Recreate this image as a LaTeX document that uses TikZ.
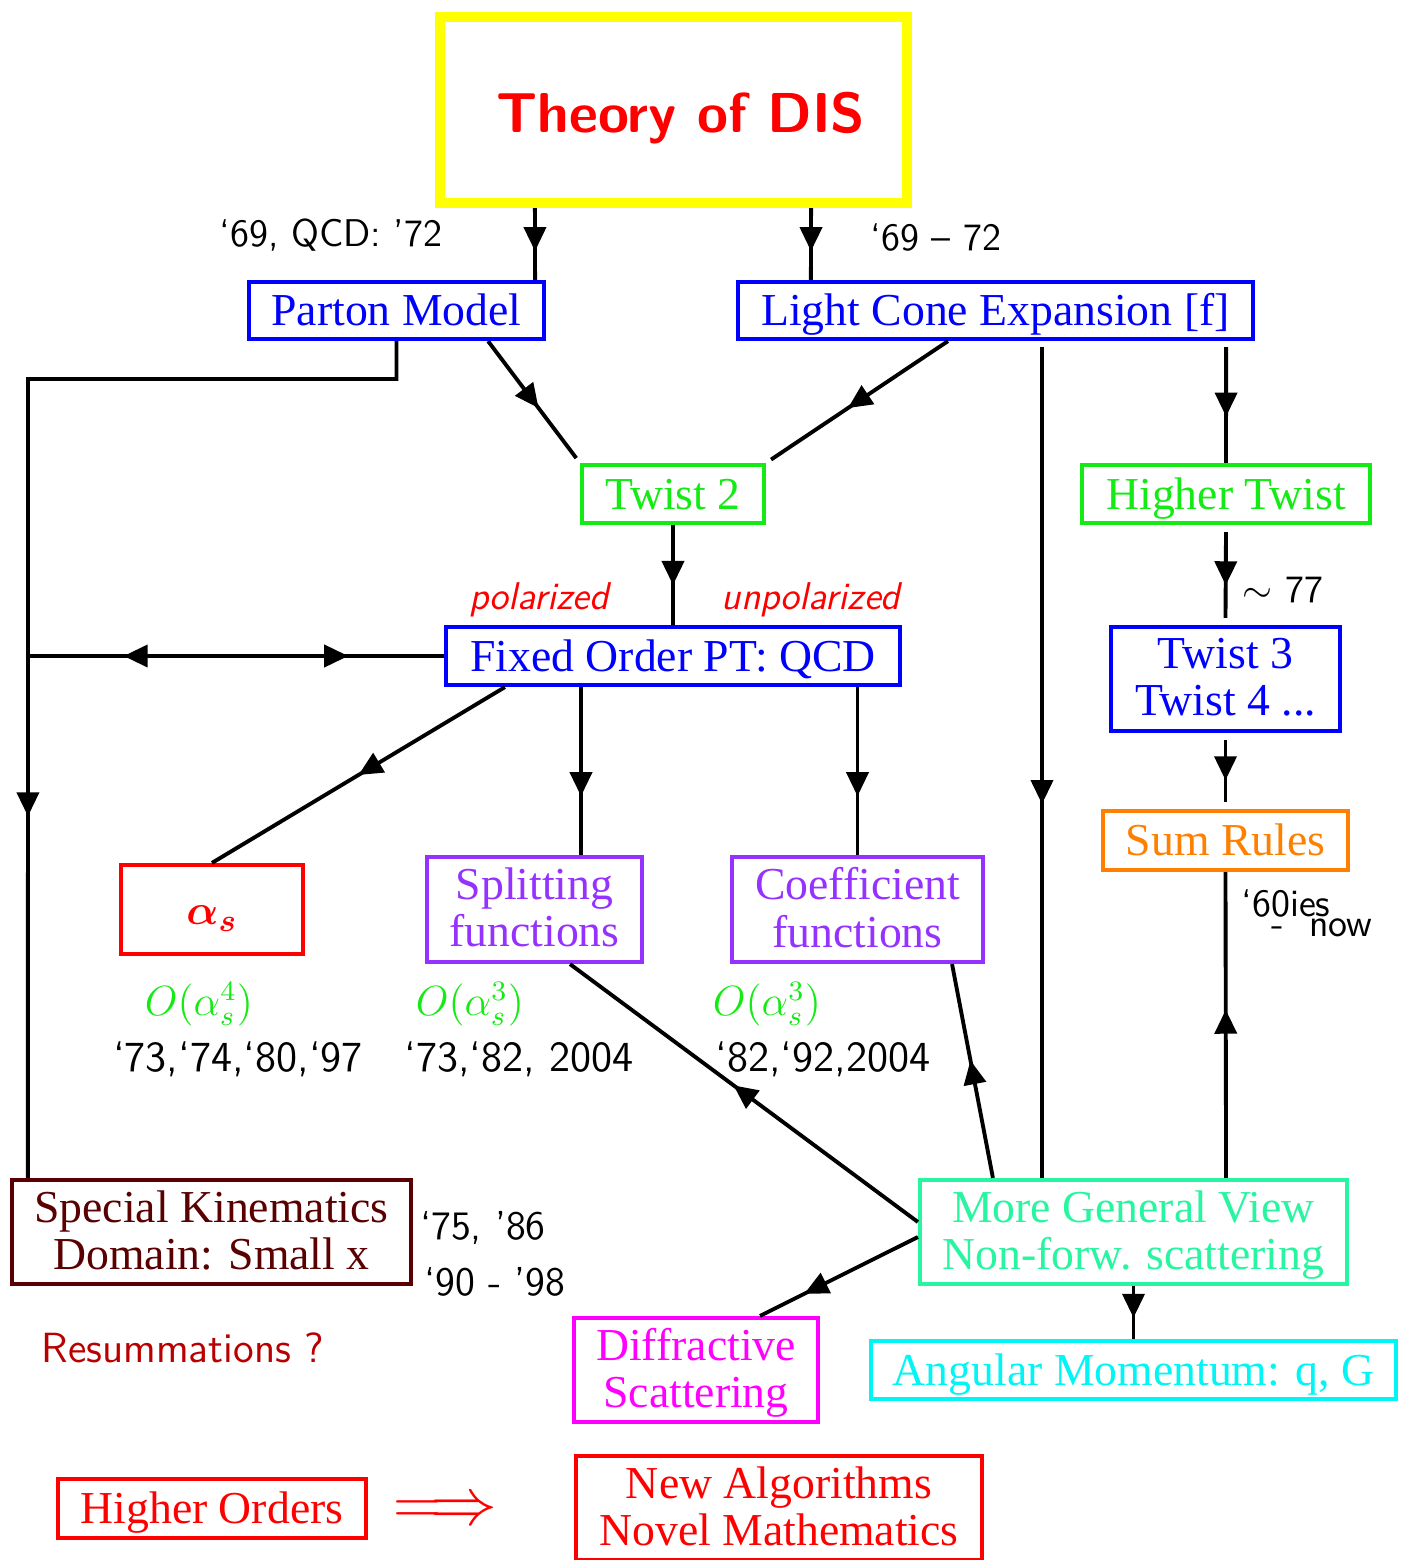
\documentclass[tikz,border=0pt]{standalone}
\usepackage[no-math]{fontspec}
\setmainfont{Liberation Serif}
\usetikzlibrary{arrows.meta,decorations.markings}

\definecolor{disyellow}{RGB}{255,255,0}
\definecolor{twistgreen}{RGB}{20,235,20}
\definecolor{splitviolet}{RGB}{150,50,255}
\definecolor{sumorange}{RGB}{255,128,0}
\definecolor{viewteal}{RGB}{40,245,160}
\definecolor{angcyan}{RGB}{0,245,245}
\definecolor{diffmagenta}{RGB}{255,0,255}
\definecolor{kinbrown}{RGB}{90,0,0}
\definecolor{resumred}{RGB}{185,0,0}

\tikzset{
  flow/.tip={Triangle[length=2.4mm,width=2.2mm]},
  box/.style={draw=#1, text=#1, line width=1.2pt, inner sep=0pt, align=center,
    font=\fontsize{13}{13.5}\selectfont},
  line1/.style={text height=10pt, text depth=1.2pt},
  line2/.style={text depth=1.2pt},
  sz/.style 2 args={minimum width=#1*0.01cm, minimum height=#2*0.01cm},
  conn/.style={line width=1.1pt},
  fwd/.style={conn, postaction={decorate},
    decoration={markings, mark=at position #1 with {\arrow{flow}}}},
  lab/.style={font=\sffamily\fontsize{11.5}{12}\selectfont, inner sep=0pt},
  yr/.style={font=\sffamily\fontsize{12.2}{13}\selectfont, inner sep=0pt},
  ord/.style={text=twistgreen, font=\fontsize{12}{14}\selectfont, inner sep=0pt},
}

\begin{document}
\begin{tikzpicture}[x=0.01cm,y=-0.01cm]
  \useasboundingbox (0,0) rectangle (1405,1560);

  % boxes
  \node[box=disyellow, line width=2.85pt, sz={467}{186}, text=red, text height=13.5pt, text depth=0.5pt,
    font=\sffamily\bfseries\fontsize{16}{18}\selectfont] (dis) at (673.5,110) {\hspace{0.15cm}Theory of DIS};
  \node[box=blue, line1, sz={295}{57}] (pm) at (396.5,310.5) {Parton Model};
  \node[box=blue, line1, sz={515}{57}] (lce) at (995.5,310.5) {Light Cone Expansion [f]};
  \node[box=twistgreen, line1, sz={182}{58}] (t2) at (673,494) {Twist 2};
  \node[box=twistgreen, line1, sz={288}{58}] (ht) at (1226,494) {Higher Twist};
  \node[box=blue, line1, sz={454}{58}] (fo) at (673,656) {Fixed Order PT: QCD};
  \node[box=blue, line2, sz={229}{104}] (t34) at (1225.5,679) {Twist 3\\Twist 4 ...};
  \node[box=sumorange, line1, sz={245}{59}] (sr) at (1225.5,840.5) {Sum Rules};
  \node[box=red, line1, sz={182}{89}] (alps) at (212,909.5) {{\boldmath$\alpha_s$}};
  \node[box=splitviolet, line2, sz={215}{105}] (sf) at (534.5,909.5) {Splitting\\functions};
  \node[box=splitviolet, line2, sz={251}{105}] (cf) at (857.5,909.5) {Coefficient\\functions};
  \node[box=viewteal, line2, sz={427}{104}] (mg) at (1133.5,1232) {More General View\\Non-forw. scattering};
  \node[box=kinbrown, line2, sz={399}{104}] (sk) at (211.5,1232) {Special Kinematics\\Domain: Small x};
  \node[box=diffmagenta, line2, sz={244}{104}] (df) at (696,1370) {Diffractive\\Scattering};
  \node[box=angcyan, line1, sz={525}{58}] (am) at (1133.5,1370) {Angular Momentum: q, G};
  \node[box=red, line1, sz={308}{59}] (ho) at (212,1508.5) {Higher Orders};
  \node[box=red, line2, sz={406}{104}] (na) at (779,1508) {New Algorithms\\Novel Mathematics};
  \node[text=red, inner sep=0pt, font=\fontsize{18}{20}\selectfont] (imp) at (445,1512) {\scalebox{1.1}{$\Longrightarrow$}};

  % labels
  \node[lab, font=\sffamily\fontsize{11}{12}\selectfont] (l1) at (331,235) {‘69, QCD: ’72};
  \node[lab, font=\sffamily\fontsize{11}{12}\selectfont] (l2) at (936,237) {‘69 -- 72};
  \node[lab, text=red, font=\sffamily\itshape\fontsize{11}{12}\selectfont] (pol) at (539,600) {polarized};
  \node[lab, text=red, font=\sffamily\itshape\fontsize{11}{12}\selectfont] (unpol) at (811,600) {unpolarized};
  \node[lab, font=\sffamily\fontsize{11}{12}\selectfont] (l3) at (1283,590) {$\sim$ 77};
  \node[lab, font=\sffamily\fontsize{11}{12}\selectfont] (l4) at (1286,903) {‘60ies};
  \node[lab, font=\sffamily\fontsize{11}{12}\selectfont] (l5) at (1322,928) {-\ \ now};
  \node[ord] (o1) at (199,1004) {$O(\alpha_s^4)$};
  \node[ord] (o2) at (470,1004) {$O(\alpha_s^3)$};
  \node[ord] (o3) at (767,1004) {$O(\alpha_s^3)$};
  \node[yr] (y1) at (238,1059) {‘73,‘74,‘80,‘97};
  \node[yr] (y2) at (519,1059) {‘73,‘82,\ 2004};
  \node[yr] (y3) at (823,1059) {‘82,‘92,2004};
  \node[lab] (y4) at (483,1228) {‘75, ’86};
  \node[lab] (y5) at (495,1282) {‘90 - ’98};
  \node[inner sep=0pt, text=resumred, font=\sffamily\fontsize{12}{14}\selectfont] (rs) at (183,1348) {Resummations ?};

  % connectors
  \coordinate (kink) at (28,379);
  \draw[fwd=0.6] ([xshift=-1.385cm]dis.south) -- ([xshift=1.385cm]pm.north);
  \draw[fwd=0.6] ([xshift=1.375cm]dis.south) -- ([xshift=-1.845cm]lce.north);
  \draw[fwd=0.55, shorten >=0.6mm] ([xshift=0.915cm]pm.south) -- (t2.north west);
  \draw[fwd=0.55, shorten >=0.6mm] ([xshift=-0.475cm]lce.south) -- (t2.north east);
  \draw[fwd=0.55] ([xshift=0.465cm,yshift=-0.06cm]lce.south) -- ([xshift=-0.915cm]mg.north);
  \draw[fwd=0.6] ([xshift=2.305cm,yshift=-0.06cm]lce.south) -- (ht.north);
  \draw[fwd=0.7] (pm.south) |- (kink) -- ([xshift=-1.835cm]sk.north);
  \draw[fwd=0.6] (t2.south) -- (fo.north);
  \draw[conn, postaction={decorate}, decoration={markings,
      mark=at position 0.23 with {\arrowreversed{flow}},
      mark=at position 0.77 with {\arrow{flow}}}] (fo.west) -- (fo.west -| kink);
  \draw[fwd=0.5] ([xshift=-1.68cm]fo.south) -- (alps.north);
  \draw[fwd=0.65] ([xshift=-0.92cm]fo.south) -- ([xshift=0.465cm]sf.north);
  \draw[fwd=0.65] (fo.south -| cf.north) -- (cf.north);
  \draw[fwd=0.62] ([yshift=-0.07cm]ht.south) -- ([yshift=0.07cm]t34.north);
  \draw[fwd=0.65] ([yshift=-0.07cm]t34.south) -- ([yshift=0.07cm]sr.north);
  \draw[fwd=0.55] ([xshift=0.925cm]mg.north) -- (sr.south);
  \draw[fwd=0.55] ([xshift=-1.405cm]mg.north) -- ([xshift=0.945cm]cf.south);
  \draw[fwd=0.53] ([yshift=0.1cm]mg.west) -- ([xshift=0.355cm]sf.south);
  \draw[fwd=0.72] ([yshift=-0.05cm]mg.west) -- ([xshift=0.64cm]df.north);
  \draw[fwd=0.6] (mg.south) -- (am.north);
\end{tikzpicture}
\end{document}
